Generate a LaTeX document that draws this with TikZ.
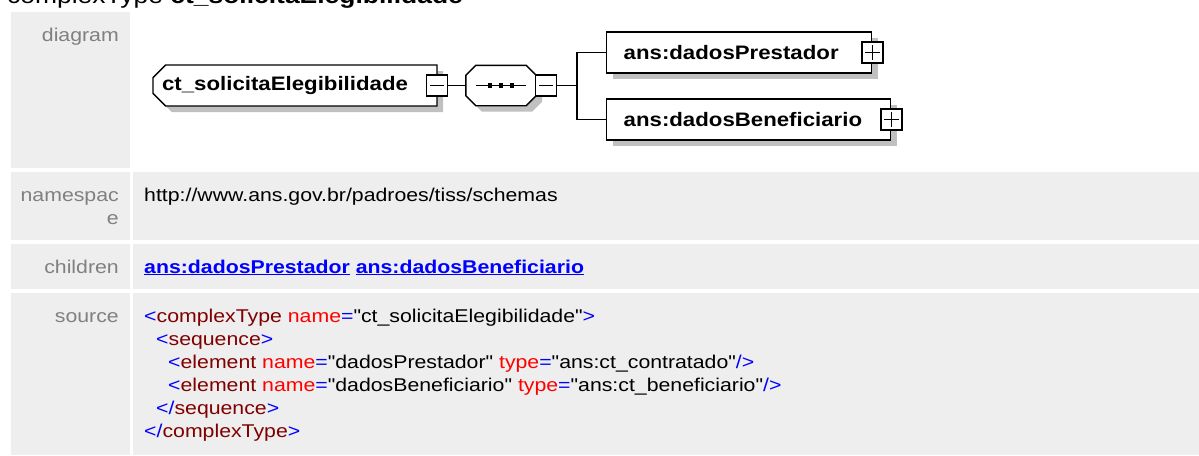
\documentclass[tikz,border=0pt]{standalone}
\usepackage{fontspec}
\setmainfont{Liberation Sans}[FakeStretch=1.15]
\newfontfamily\dfont{Liberation Sans}[FakeStretch=1.14]
\newfontfamily\srcfont{Liberation Sans}[FakeStretch=1.15]
\usetikzlibrary{shapes.misc,shadows}
\definecolor{cellgray}{HTML}{EEEEEE}
\definecolor{labgray}{HTML}{808080}
\definecolor{shgray}{HTML}{C0C0C0}
\definecolor{tagred}{HTML}{800000}
\definecolor{attred}{HTML}{FF0000}
\definecolor{xblue}{HTML}{0000FF}
\newcommand\srcBlue[1]{\textcolor{xblue}{#1}}
\newcommand\srcTag[1]{\textcolor{tagred}{#1}}
\newcommand\srcAtt[1]{\textcolor{attred}{#1}}
\tikzset{
  cell/.style={fill=cellgray},
  lab/.style={anchor=base east, inner sep=0pt, text=labgray, font=\fontsize{18.5}{23}\selectfont},
  txt/.style={anchor=base west, inner sep=0pt, font=\fontsize{18.5}{23}\selectfont},
  src/.style={anchor=base west, inner sep=0pt, font=\srcfont\fontsize{18.5}{23}\selectfont},
  boxline/.style={draw=black, line width=1.4pt, fill=white},
  shad/.style={drop shadow={shadow xshift=6pt, shadow yshift=-6pt, fill=shgray, opacity=1}},
  elemfont/.style={font=\dfont\bfseries\fontsize{19.5}{22}\selectfont},
  mainbox/.style={boxline, shad, elemfont, chamfered rectangle,
    chamfered rectangle corners={north west,south west},
    chamfered rectangle xsep=9pt, chamfered rectangle angle=45,
    minimum width=284pt, minimum height=41pt, inner xsep=0pt, inner ysep=0pt},
  seqbox/.style={rectangle, minimum width=70pt, minimum height=40pt, inner sep=0pt},
  childbox/.style={boxline, shad, elemfont, rectangle, anchor=west,
    minimum height=41pt, inner xsep=17pt, inner ysep=0pt, align=left},
  pm/.style={draw=black, fill=white, line width=1.2pt, rectangle,
    minimum size=21pt, inner sep=0pt},
  sign/.style={line width=1.2pt},
  conn/.style={line width=1.3pt},
}
\begin{document}
\begin{tikzpicture}[x=1pt,y=-1pt]
\useasboundingbox (0,0) rectangle (1199,455);
\clip (0,0) rectangle (1199,455);
% title
\node[anchor=base west, inner sep=0pt, font=\fontsize{23}{26}\selectfont] (title) at (7,3.5)
  {complexType \textbf{ct\_solicitaElegibilidade}};
% table cells
\fill[cell] (11,12) rectangle (130,168);
\fill[cell] (11,172) rectangle (130,240);
\fill[cell] (133,172) rectangle (1199,240);
\fill[cell] (11,244) rectangle (130,289);
\fill[cell] (133,244) rectangle (1199,289);
\fill[cell] (11,293) rectangle (130,455);
\fill[cell] (133,293) rectangle (1199,455);
% labels
\node[lab] (ldiag) at (119,41) {diagram};
\node[lab] (lns1) at (119,201) {namespac};
\node[lab] (lns2) at (119,224) {e};
\node[lab] (lch) at (119,273) {children};
\node[lab] (lsrc) at (119,322) {source};
% namespace + children
\node[txt] (ns) at (144,201) {http://www.ans.gov.br/padroes/tiss/schemas};
\node[txt, text=xblue] (ch) at (144,273)
  {\textbf{\underline{ans:dadosPrestador}} \textbf{\underline{ans:dadosBeneficiario}}};
% source
\node[src] (s1) at (144,322) {\srcBlue{<}\srcTag{complexType} \srcAtt{name}\srcBlue{=}"ct\_solicitaElegibilidade"\srcBlue{>}};
\node[src] (s2) at (156,345) {\srcBlue{<}\srcTag{sequence}\srcBlue{>}};
\node[src] (s3) at (168,368) {\srcBlue{<}\srcTag{element} \srcAtt{name}\srcBlue{=}"dadosPrestador" \srcAtt{type}\srcBlue{=}"ans:ct\_contratado"\srcBlue{/>}};
\node[src] (s4) at (168,391) {\srcBlue{<}\srcTag{element} \srcAtt{name}\srcBlue{=}"dadosBeneficiario" \srcAtt{type}\srcBlue{=}"ans:ct\_beneficiario"\srcBlue{/>}};
\node[src] (s5) at (156,414) {\srcBlue{</}\srcTag{sequence}\srcBlue{>}};
\node[src] (s6) at (144,437) {\srcBlue{</}\srcTag{complexType}\srcBlue{>}};
% diagram
\node[mainbox] (ct) at (295,85.5) {ct\_solicitaElegibilidade\hspace*{20pt}};
\node[pm] (ctm) at (437,85.5) {};
\draw[sign] ([xshift=4pt]ctm.west) -- ([xshift=-4pt]ctm.east);
\node[seqbox] (seq) at (501,85.5) {};
\draw[boxline, shad] ([xshift=10pt]seq.north west) -- ([xshift=-10pt]seq.north east)
  -- ([yshift=-10pt]seq.north east) -- ([yshift=10pt]seq.south east)
  -- ([xshift=-10pt]seq.south east) -- ([xshift=10pt]seq.south west)
  -- ([yshift=10pt]seq.south west) -- ([yshift=-10pt]seq.north west) -- cycle;
\draw[conn] ([xshift=10pt]seq.west) -- ([xshift=-10pt]seq.east);
\fill ([xshift=-11pt]seq.center) +(-2.3pt,-2.3pt) rectangle +(2.3pt,2.3pt);
\fill (seq.center) +(-2.3pt,-2.3pt) rectangle +(2.3pt,2.3pt);
\fill ([xshift=11pt]seq.center) +(-2.3pt,-2.3pt) rectangle +(2.3pt,2.3pt);
\node[pm] (seqm) at (546,85.5) {};
\draw[sign] ([xshift=4pt]seqm.west) -- ([xshift=-4pt]seqm.east);
\coordinate (br) at (577,85.5);
\node[childbox, text width=231pt] (c1) at (606,52.5) {ans:dadosPrestador};
\node[childbox, text width=250pt] (c2) at (606,119.5) {ans:dadosBeneficiario};
\node[pm] (c1p) at (c1.east) {};
\draw[sign] ([xshift=4pt]c1p.west) -- ([xshift=-4pt]c1p.east);
\draw[sign] ([yshift=-4pt]c1p.north) -- ([yshift=4pt]c1p.south);
\node[pm] (c2p) at (c2.east) {};
\draw[sign] ([xshift=4pt]c2p.west) -- ([xshift=-4pt]c2p.east);
\draw[sign] ([yshift=-4pt]c2p.north) -- ([yshift=4pt]c2p.south);
% connectors
\draw[conn] (ctm) -- (seq);
\draw[conn] (seqm) -- (br);
\draw[conn] (c1.west) -| (br) |- (c2.west);
\end{tikzpicture}
\end{document}
